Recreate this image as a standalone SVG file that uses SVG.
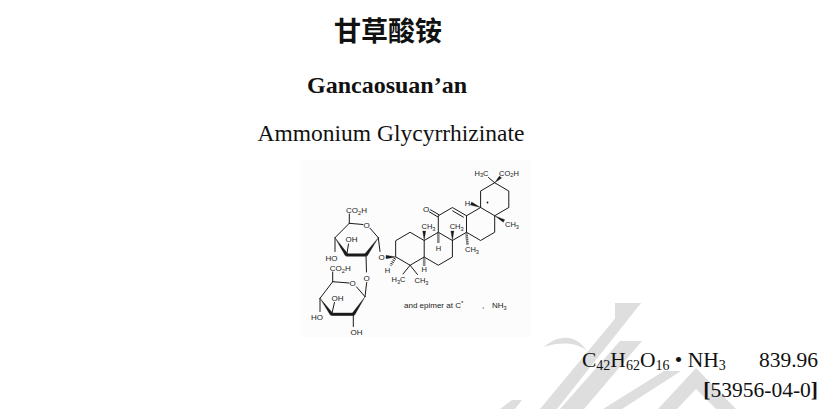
<svg xmlns="http://www.w3.org/2000/svg" width="837" height="409" viewBox="0 0 837 409">
<style>
.bd{stroke:#1a1a1a;stroke-width:1;fill:none;stroke-linecap:round;stroke-linejoin:round}
.bold{stroke:#1a1a1a;stroke-width:3;fill:none;stroke-linecap:butt}
.wg{fill:#1a1a1a;stroke:#1a1a1a;stroke-width:0.3}
.hs{stroke:#1a1a1a;stroke-width:2.6;stroke-dasharray:0.9 1.1;fill:none}
.lb{font-family:"Liberation Sans",Arial,sans-serif;font-size:8px;fill:#1a1a1a}
.lm{font-family:"Liberation Sans",Arial,sans-serif;font-size:7.5px;fill:#1a1a1a}
.mid{text-anchor:middle}
.end{text-anchor:end}
.sb{font-size:5.6px}
.tm{font-family:"Liberation Serif","Times New Roman",serif;font-size:21.5px;fill:#111}
.ts{font-size:14px}
.wm{fill:#dedede}
</style>
<rect width="837" height="409" fill="#ffffff"/>
<g id="watermark">
<polygon class="wm" points="615,303 641,303 615,328"/>
<polygon class="wm" points="628,303 641,303 557,409 540,409"/>
<path class="wm" d="M544,347 C556,336 575,332 587,351 C578,343 562,341 544,347 Z"/>
<polygon class="wm" points="620,341 642,341 584,409 560,409"/>
<polygon class="wm" points="664,371 681,371 622,409 603,409"/>
<polygon class="wm" points="696,368 736,409 716,409 696,389 677,409 658,409"/>
<polygon class="wm" points="500,409 512,400 522,400 515,409"/>
</g>
<rect x="300" y="160" width="230" height="177" fill="#fcfcfc"/>
<g id="title">
<text x="388" y="41" text-anchor="middle" font-family="'Noto Sans CJK SC','Noto Sans CJK TC',sans-serif" font-weight="bold" font-size="27" fill="#111">甘草酸铵</text>
<text x="387" y="92.5" text-anchor="middle" font-family="'Liberation Serif','Times New Roman',serif" font-weight="bold" font-size="24" fill="#111">Gancaosuan’an</text>
<text x="391" y="140.5" text-anchor="middle" font-family="'Liberation Serif','Times New Roman',serif" font-size="23.5" fill="#111">Ammonium Glycyrrhizinate</text>
</g>
<g id="structure">
<g id="aglycone">
<path class="bd" d="M396,240.5 L410.1,232.25 L424.2,240.5 L424.2,257 L410.1,265.25 L396,257 Z"/>
<path class="bd" d="M424.2,240.5 L438.3,232.25 L452.4,240.5 L452.4,257 L438.3,265.25 L424.2,257"/>
<path class="bd" d="M438.3,232.25 L438.3,215.75 L452.4,207.5 L466.5,215.75 L466.5,232.25 L452.4,240.5"/>
<path class="bd" d="M466.5,215.75 L480.6,207.5 L494.7,215.75 L494.7,232.25 L480.6,240.5 L466.5,232.25"/>
<path class="bd" d="M480.6,207.5 L480.6,191 L494.7,182.75 L508.8,191 L508.8,207.5 L494.7,215.75"/>
<line class="bd" x1="452.7" y1="210.9" x2="463.4" y2="217.2"/>
<line class="bd" x1="438.9" y1="214.7" x2="430.5" y2="209.8"/>
<line class="bd" x1="437.7" y1="216.8" x2="429.3" y2="211.8"/>
<text class="lb mid" x="426" y="211.5">O</text>
<polygon class="wg" points="424.2,240.5 422.7,231 425.7,231"/>
<text class="lm" x="421.5" y="229">CH<tspan class="sb" dy="1.8">3</tspan></text>
<polygon class="wg" points="452.4,240.5 450.9,231 453.9,231"/>
<text class="lm" x="449.7" y="229">CH<tspan class="sb" dy="1.8">3</tspan></text>
<line class="hs" x1="438.3" y1="233.5" x2="438.3" y2="243.5"/>
<text class="lm mid" x="438.5" y="251">H</text>
<line class="hs" x1="466.5" y1="233.5" x2="467.5" y2="244.5"/>
<text class="lm" x="465" y="252">CH<tspan class="sb" dy="1.8">3</tspan></text>
<line class="hs" x1="424.2" y1="258.5" x2="424.2" y2="265.5"/>
<text class="lm mid" x="424.2" y="272.3">H</text>
<line class="hs" x1="395" y1="258.3" x2="390.5" y2="265.5"/>
<text class="lm mid" x="387.5" y="273">H</text>
<polygon class="wg" points="396,257 386,255.3 386,258.7"/>
<line class="bd" x1="410.1" y1="265.25" x2="403" y2="274"/>
<line class="bd" x1="410.1" y1="265.25" x2="417.5" y2="274.5"/>
<text class="lm end" x="405.5" y="282">H<tspan class="sb" dy="1.8">3</tspan><tspan dy="-1.8">C</tspan></text>
<text class="lm" x="414.5" y="283">CH<tspan class="sb" dy="1.8">3</tspan></text>
<polygon class="wg" points="480.6,207.5 471.6,202.1 470.4,204.9"/>
<text class="lm mid" x="467.5" y="205.5">H</text>
<polygon class="wg" points="494.7,215.75 504.7,219.7 503.3,222.3"/>
<text class="lm" x="505" y="227">CH<tspan class="sb" dy="1.8">3</tspan></text>
<line class="bd" x1="494.7" y1="182.75" x2="488.5" y2="177.5"/>
<text class="lm end" x="488.5" y="175.5">H<tspan class="sb" dy="1.8">3</tspan><tspan dy="-1.8">C</tspan></text>
<polygon class="wg" points="494.7,182.75 501.6,178.1 499.4,175.9"/>
<text class="lm" x="499" y="175.5">CO<tspan class="sb" dy="1.8">2</tspan><tspan dy="-1.8">H</tspan></text>
<circle cx="487.5" cy="202.5" r="0.9" fill="#1a1a1a"/>
</g>
<g id="sugar-upper">
<line class="bd" x1="349.3" y1="223.3" x2="363" y2="224.5"/>
<text class="lb mid" x="366.7" y="228">O</text>
<line class="bd" x1="370" y1="228.2" x2="378.3" y2="237.7"/>
<polygon class="wg" points="378.3,237.7 367.3,255.9 364.7,254.1"/>
<line class="bold" x1="366.5" y1="255" x2="346.2" y2="255"/>
<polygon class="wg" points="335,237.7 345.4,255.9 348,254.1"/>
<line class="bd" x1="335" y1="237.7" x2="349.3" y2="223.3"/>
<line class="bd" x1="349.3" y1="223.3" x2="349.3" y2="214"/>
<text class="lb" x="346" y="212.5">CO<tspan class="sb" dy="2">2</tspan><tspan dy="-2">H</tspan></text>
<line class="bd" x1="335" y1="237.7" x2="335" y2="251.5"/>
<text class="lb end" x="337.5" y="260.5">HO</text>
<line class="bd" x1="346.7" y1="255" x2="348.5" y2="244"/>
<text class="lb" x="345.5" y="242">OH</text>
<line class="bd" x1="378.3" y1="237.7" x2="380" y2="251.5"/>
<text class="lb mid" x="381.5" y="260">O</text>
<line class="bd" x1="366" y1="255" x2="366.5" y2="272"/>
<text class="lb mid" x="366.7" y="280.5">O</text>
<line class="bd" x1="366.7" y1="282.5" x2="365" y2="296.7"/>
</g>
<g id="sugar-lower">
<line class="bd" x1="332.7" y1="281.7" x2="349" y2="283"/>
<text class="lb mid" x="352.7" y="286.3">O</text>
<line class="bd" x1="356.5" y1="286.8" x2="365" y2="296.7"/>
<polygon class="wg" points="365,296.7 354.6,315.2 352,313.4"/>
<line class="bold" x1="353.8" y1="314.3" x2="331.2" y2="314.3"/>
<polygon class="wg" points="320,298.3 330.4,315.2 333,313.4"/>
<line class="bd" x1="320" y1="298.3" x2="332.7" y2="281.7"/>
<line class="bd" x1="332.7" y1="281.7" x2="332.7" y2="272"/>
<text class="lb" x="329.8" y="270.5">CO<tspan class="sb" dy="2">2</tspan><tspan dy="-2">H</tspan></text>
<line class="bd" x1="320" y1="298.3" x2="320" y2="311.5"/>
<text class="lb end" x="323" y="319.5">HO</text>
<line class="bd" x1="331.7" y1="314.3" x2="334.5" y2="302.5"/>
<text class="lb" x="331.5" y="301">OH</text>
<line class="bd" x1="353.3" y1="314.3" x2="353.3" y2="326.5"/>
<text class="lb" x="350.5" y="334.5">OH</text>
</g>
<text class="lb" x="404" y="308" font-size="8.5">and epimer at C<tspan font-size="6" dy="-3">*</tspan></text>
<text class="lb" x="482" y="308" font-size="8.5">,</text>
<text class="lb" x="492" y="308" font-size="8.5">NH<tspan class="sb" dy="2">3</tspan></text>
</g>
<g id="formula">
<text class="tm" x="582" y="367">C<tspan class="ts" dy="3">42</tspan><tspan dy="-3">H</tspan><tspan class="ts" dy="3">62</tspan><tspan dy="-3">O</tspan><tspan class="ts" dy="3">16</tspan><tspan dy="-3"> • NH</tspan><tspan class="ts" dy="3">3</tspan></text>
<text class="tm" x="818" y="367" text-anchor="end">839.96</text>
<text class="tm" x="818" y="397" text-anchor="end" font-size="20"><tspan font-weight="bold">[</tspan>53956-04-0<tspan font-weight="bold">]</tspan></text>
</g>
</svg>
